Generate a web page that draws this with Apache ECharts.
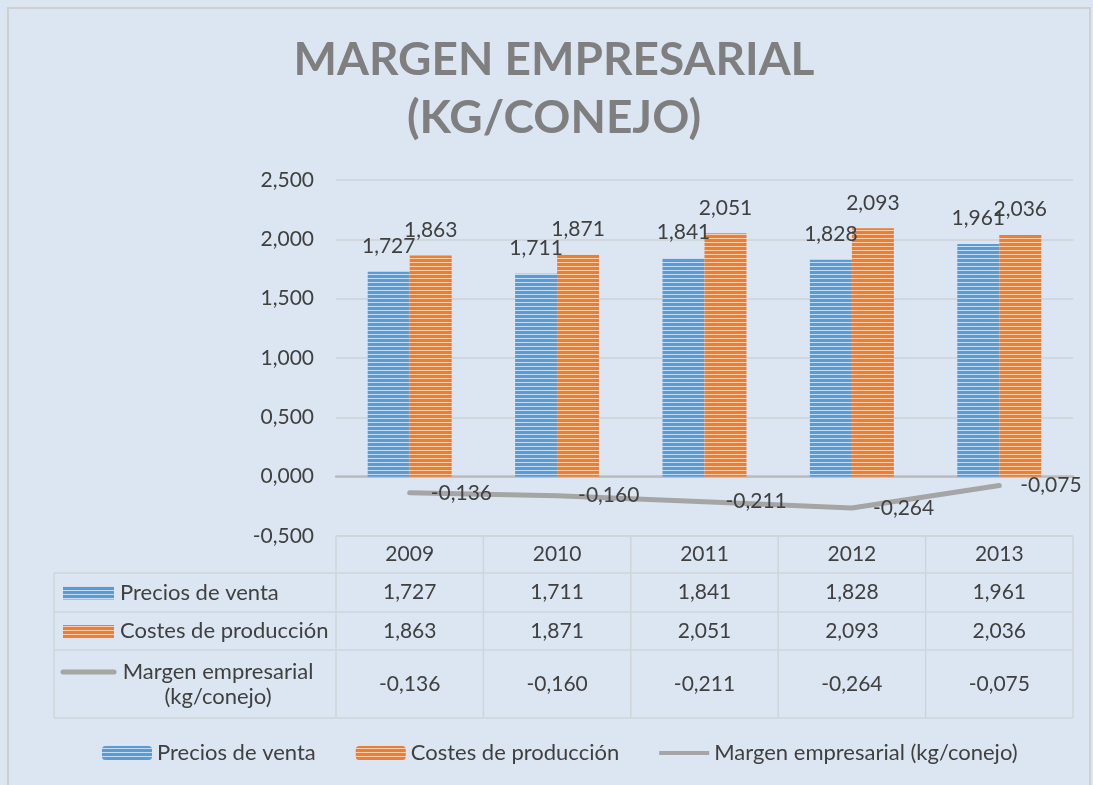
<!DOCTYPE html>
<html>
<head>
    <meta charset="UTF-8">
    <title>Margen empresarial</title>
    <style>
        *{
            margin: 0;
            padding: 0;
        }
        .container{
            width: 1093px;
            height: 785px;
        }
    </style>
    <script src="https://cdn.jsdelivr.net/npm/echarts@6/dist/echarts.min.js"></script>
</head>
<body>
<div class="container"></div>
<script>
    // datos
    let years=['2009','2010','2011','2012','2013']
    let precios=[1.727,1.711,1.841,1.828,1.961]
    let costes=[1.863,1.871,2.051,2.093,2.036]
    let margen=[-0.136,-0.160,-0.211,-0.264,-0.075]
    let names=['Precios de venta','Costes de producción','Margen empresarial (kg/conejo)']
    let yMin=-0.5, yMax=2.5, yStep=0.5

    const font='Lato'
    const txt='#404040'
    const fs=21

    function fmt(v){
        return v.toFixed(3).replace('.',',')
    }

    // rayas horizontales como en excel
    function stripes(c1,c2){
        let cv=document.createElement('canvas')
        cv.width=4; cv.height=4
        let ctx=cv.getContext('2d')
        ctx.fillStyle=c1; ctx.fillRect(0,0,4,4)
        ctx.fillStyle=c2; ctx.fillRect(0,2,4,1)
        return {image:cv,repeat:'repeat'}
    }
    let blue=stripes('#5b9bd5','#c6dcf1')
    let orange=stripes('#ed7d31','#f9cfb2')

    let container=document.querySelector('.container')
    let mychart=echarts.init(container)

    let option={
        backgroundColor:'#dce6f2',
        textStyle:{fontFamily:font},
        title:{
            text:'MARGEN EMPRESARIAL\n(KG/CONEJO)',
            left:549,
            top:26,
            textAlign:'center',
            textStyle:{
                fontFamily:font,
                fontSize:46,
                fontWeight:'bold',
                lineHeight:58,
                color:'#7f7f7f'
            }
        },
        legend:{
            left:97,
            top:737,
            itemWidth:50,
            itemHeight:14,
            itemGap:40,
            textStyle:{fontSize:22,color:txt,fontFamily:font,padding:[0,0,0,0]},
            data:[
                names[0],
                names[1],
                {name:names[2],icon:'path://M0,0L0,0M0,5L50,5L50,9L0,9ZM50,14L50,14'}
            ]
        },
        grid:{
            left:336,
            right:20,
            top:180,
            bottom:249
        },
        xAxis:{
            type:'category',
            data:years,
            axisLine:{onZero:true,lineStyle:{color:'#bcbcbc',width:2.5}},
            axisTick:{show:false},
            axisLabel:{show:false}
        },
        yAxis:{
            type:'value',
            min:yMin,
            max:yMax,
            interval:yStep,
            axisLine:{show:false},
            axisTick:{show:false},
            axisLabel:{
                fontSize:fs,
                color:txt,
                margin:22,
                formatter:fmt
            },
            splitLine:{lineStyle:{color:'#cdd2d8',width:1.5}}
        },
        series:[
            {
                name:names[0],
                type:'bar',
                data:precios,
                barWidth:42,
                barGap:'0%',
                itemStyle:{color:blue},
                label:{show:true,position:'top',distance:15,fontSize:fs,color:txt,fontFamily:font,
                    formatter:p=>fmt(p.value)}
            },
            {
                name:names[1],
                type:'bar',
                data:costes,
                barWidth:42,
                itemStyle:{color:orange},
                label:{show:true,position:'top',distance:15,fontSize:fs,color:txt,fontFamily:font,
                    formatter:p=>fmt(p.value)}
            },
            {
                name:names[2],
                type:'line',
                data:margen,
                symbol:'circle',
                symbolSize:0,
                showSymbol:true,
                itemStyle:{color:'#a5a5a5'},
                lineStyle:{color:'#a5a5a5',width:5,cap:'round'},
                label:{show:true,position:'right',distance:21,fontSize:fs,color:txt,fontFamily:font,
                    formatter:p=>fmt(p.value)},
                labelLayout:{hideOverlap:false},
                z:3
            }
        ]
    }
    mychart.setOption(option)

    // tabla de datos debajo del grafico
    let x0=mychart.convertToPixel({xAxisIndex:0},years[0])
    let x1=mychart.convertToPixel({xAxisIndex:0},years[1])
    let cw=x1-x0
    let gl=x0-cw/2
    let gr=gl+cw*years.length
    let tTop=mychart.convertToPixel({yAxisIndex:0},yMin)
    let tl=54
    let rowH=[37,39,38,68]
    let ys=[tTop]
    rowH.forEach(h=>ys.push(ys[ys.length-1]+h))
    let lc='#cfd4da'
    let els=[]
    els.push({type:'rect',shape:{x:8,y:8,width:1082,height:800},
        style:{fill:null,stroke:'#d0d0d0',lineWidth:2},silent:true})
    // lineas horizontales
    ys.forEach((y,i)=>{
        els.push({type:'line',shape:{x1:i==0?gl:tl,y1:y,x2:gr,y2:y},style:{stroke:lc,lineWidth:1.5}})
    })
    // lineas verticales
    for(let i=0;i<=years.length;i++){
        let x=gl+cw*i
        els.push({type:'line',shape:{x1:x,y1:ys[0],x2:x,y2:ys[4]},style:{stroke:lc,lineWidth:1.5}})
    }
    els.push({type:'line',shape:{x1:tl,y1:ys[1],x2:tl,y2:ys[4]},style:{stroke:lc,lineWidth:1.5}})
    let tfont=fs+'px '+font
    // cabecera
    years.forEach((yr,i)=>{
        els.push({type:'text',x:gl+cw*(i+0.5),y:(ys[0]+ys[1])/2,
            style:{text:yr,font:tfont,fill:txt,align:'center',verticalAlign:'middle'}})
    })
    let rows=[precios,costes,margen]
    rows.forEach((r,k)=>{
        let cy=(ys[k+1]+ys[k+2])/2
        r.forEach((v,i)=>{
            els.push({type:'text',x:gl+cw*(i+0.5),y:cy,
                style:{text:fmt(v),font:tfont,fill:txt,align:'center',verticalAlign:'middle'}})
        })
    })
    // leyenda de la tabla
    let nfont='22px '+font
    let c1=(ys[1]+ys[2])/2, c2=(ys[2]+ys[3])/2, c3=(ys[3]+ys[4])/2
    els.push({type:'rect',shape:{x:63,y:c1-6,width:51,height:13},style:{fill:blue}})
    els.push({type:'text',x:120,y:c1,style:{text:names[0],font:nfont,fill:txt,verticalAlign:'middle'}})
    els.push({type:'rect',shape:{x:63,y:c2-6,width:51,height:13},style:{fill:orange}})
    els.push({type:'text',x:120,y:c2,style:{text:names[1],font:nfont,fill:txt,verticalAlign:'middle'}})
    els.push({type:'line',shape:{x1:63,y1:c3-12,x2:114,y2:c3-12},style:{stroke:'#a5a5a5',lineWidth:5,lineCap:'round'}})
    els.push({type:'text',x:218,y:c3,style:{text:'Margen empresarial\n(kg/conejo)',font:nfont,
        fill:txt,align:'center',verticalAlign:'middle',lineHeight:25}})
    mychart.setOption({graphic:{elements:els}})
</script>
</body>
</html>
